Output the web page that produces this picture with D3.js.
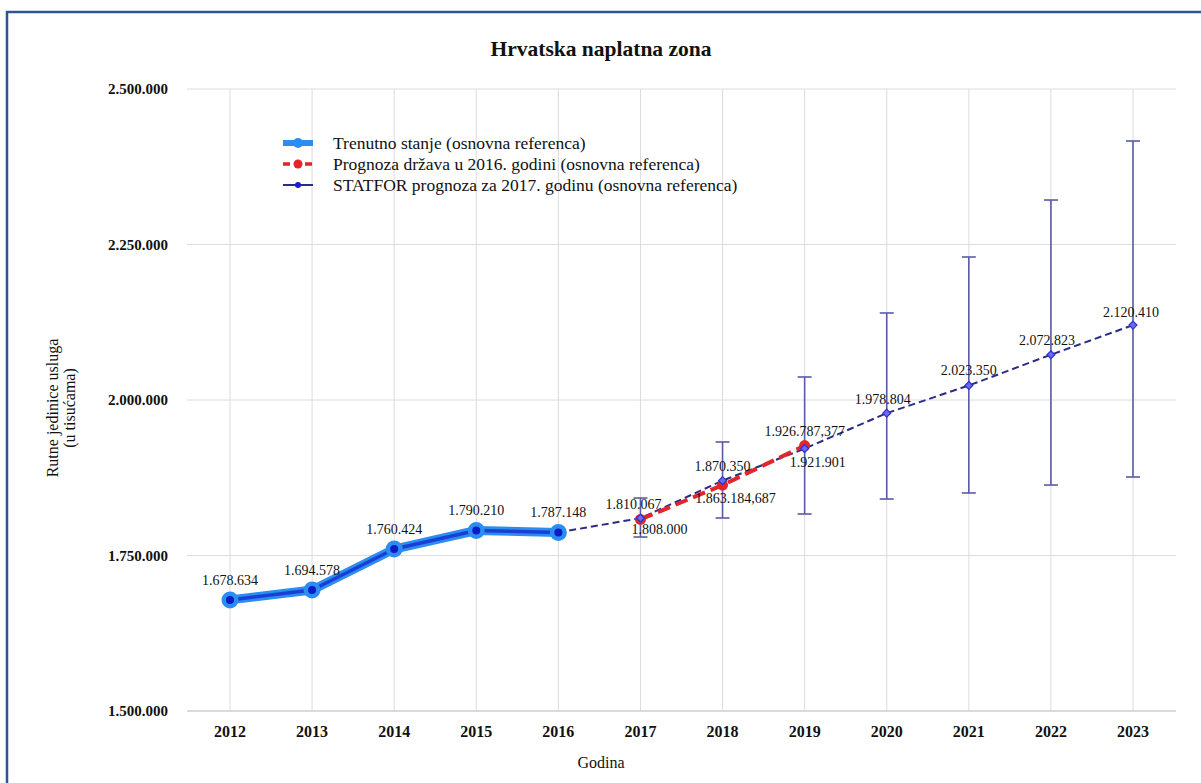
<!DOCTYPE html>
<html>
<head>
<meta charset="utf-8">
<script src="https://cdn.jsdelivr.net/npm/d3@7"></script>
<style>
  body { margin: 0; background: #fff; }
  svg { display: block; }
  text { font-family: "Liberation Serif", "Times New Roman", serif; fill: #111; }
</style>
</head>
<body>
<div id="wrapper"></div>
<script>
// data
const years = [2012, 2013, 2014, 2015, 2016, 2017, 2018, 2019, 2020, 2021, 2022, 2023];

const actualYears = [2012, 2013, 2014, 2015, 2016];
const actualValues = [1678634, 1694578, 1760424, 1790210, 1787148];

const stateYears = [2017, 2018, 2019];
const stateValues = [1808000, 1863184.687, 1926787.377];

const statforYears = [2016, 2017, 2018, 2019, 2020, 2021, 2022, 2023];
const statforValues = [1787148, 1810067, 1870350, 1921901, 1978804, 2023350, 2072823, 2120410];
const statforHigh = [null, 1842400, 1932500, 2037000, 2139900, 2229900, 2321500, 2416400];
const statforLow = [null, 1779700, 1810300, 1816700, 1840800, 1850500, 1863300, 1876200];

const yTicks = [1500000, 1750000, 2000000, 2250000, 2500000];

const legendNames = [
  'Trenutno stanje (osnovna referenca)',
  'Prognoza država u 2016. godini (osnovna referenca)',
  'STATFOR prognoza za 2017. godinu (osnovna referenca)'
];

// label placement (dx, dy from the point), pure layout
const actualLabelPos = actualYears.map(() => [0, -15]);
const stateLabelPos = [[19, 15], [13, 18], [0, -10]];
const statforLabelPos = [null, [-7, -9], [0, -10], [13, 18], [-4, -9], [0, -10], [-4, -10], [-2, -8]];

/* DIMENSIONS */
const dimensions = { width: 1201, height: 783 };

const hr = d3.formatLocale({ decimal: ',', thousands: '.', grouping: [3], currency: ['', ''] });
const fmtInt = hr.format(',.0f');
const fmtDec = hr.format(',.3f');
const fmtValue = v => Number.isInteger(v) ? fmtInt(v) : fmtDec(v);

/* SCALES */
const xScale = d3.scalePoint()
  .domain(years)
  .range([230, 1133]);

const yScale = d3.scaleLinear()
  .domain([1500000, 2500000])
  .range([711, 89]);

const svg = d3.select('#wrapper')
  .append('svg')
  .attr('width', dimensions.width)
  .attr('height', dimensions.height);

// frame
svg.append('path')
  .attr('d', `M 7 ${dimensions.height} L 7 12 L ${dimensions.width} 12`)
  .attr('fill', 'none')
  .attr('stroke', '#2e5593')
  .attr('stroke-width', 2.5);

// title
svg.append('text')
  .attr('x', 601)
  .attr('y', 56)
  .attr('text-anchor', 'middle')
  .attr('font-size', 21.5)
  .attr('font-weight', 'bold')
  .text('Hrvatska naplatna zona');

/* GRID */
const grid = svg.append('g');
grid.selectAll('line.v')
  .data(years)
  .enter()
  .append('line')
  .attr('class', 'v')
  .attr('x1', d => xScale(d))
  .attr('x2', d => xScale(d))
  .attr('y1', yScale(2500000))
  .attr('y2', yScale(1500000))
  .attr('stroke', '#dcdcdc')
  .attr('stroke-width', 1);

grid.selectAll('line.h')
  .data(yTicks)
  .enter()
  .append('line')
  .attr('class', 'h')
  .attr('x1', 187)
  .attr('x2', 1176)
  .attr('y1', d => yScale(d))
  .attr('y2', d => yScale(d))
  .attr('stroke', d => d === 1500000 ? '#cfcfcf' : '#dcdcdc')
  .attr('stroke-width', d => d === 1500000 ? 1.5 : 1);

/* AXES LABELS */
svg.append('g')
  .selectAll('text')
  .data(yTicks)
  .enter()
  .append('text')
  .attr('x', 168)
  .attr('y', d => yScale(d))
  .attr('dy', '0.35em')
  .attr('text-anchor', 'end')
  .attr('font-size', 15)
  .attr('font-weight', 'bold')
  .text(d => fmtInt(d));

svg.append('g')
  .selectAll('text')
  .data(years)
  .enter()
  .append('text')
  .attr('x', d => xScale(d))
  .attr('y', 737)
  .attr('text-anchor', 'middle')
  .attr('font-size', 16)
  .attr('font-weight', 'bold')
  .text(d => d);

svg.append('text')
  .attr('x', 601)
  .attr('y', 768)
  .attr('text-anchor', 'middle')
  .attr('font-size', 16)
  .text('Godina');

const yTitle = svg.append('text')
  .attr('transform', 'translate(0 408) rotate(-90)')
  .attr('text-anchor', 'middle')
  .attr('font-size', 16);
yTitle.append('tspan').attr('x', 0).attr('y', 58).text('Rutne jedinice usluga');
yTitle.append('tspan').attr('x', 0).attr('y', 75).text('(u tisućama)');

/* SERIES */
const line = d3.line()
  .x(d => xScale(d[0]))
  .y(d => yScale(d[1]));

const actual = d3.zip(actualYears, actualValues);
const state = d3.zip(stateYears, stateValues);
const statfor = d3.zip(statforYears, statforValues);

// STATFOR error bars
const bars = svg.append('g')
  .selectAll('g')
  .data(statforYears.map((y, i) => [y, statforLow[i], statforHigh[i]]).filter(d => d[1] != null))
  .enter()
  .append('g')
  .attr('stroke', '#5a5aa8')
  .attr('stroke-width', 1.6);
bars.append('line')
  .attr('x1', d => xScale(d[0])).attr('x2', d => xScale(d[0]))
  .attr('y1', d => yScale(d[1])).attr('y2', d => yScale(d[2]));
bars.append('line')
  .attr('x1', d => xScale(d[0]) - 7).attr('x2', d => xScale(d[0]) + 7)
  .attr('y1', d => yScale(d[1])).attr('y2', d => yScale(d[1]));
bars.append('line')
  .attr('x1', d => xScale(d[0]) - 7).attr('x2', d => xScale(d[0]) + 7)
  .attr('y1', d => yScale(d[2])).attr('y2', d => yScale(d[2]));

// STATFOR line
svg.append('path')
  .attr('d', line(statfor))
  .attr('fill', 'none')
  .attr('stroke', '#2b2b86')
  .attr('stroke-width', 2)
  .attr('stroke-dasharray', '7 4');

// state forecast
svg.append('path')
  .attr('d', line(state))
  .attr('fill', 'none')
  .attr('stroke', '#e0262b')
  .attr('stroke-width', 4)
  .attr('stroke-dasharray', '13 6');
svg.append('g')
  .selectAll('circle')
  .data(state)
  .enter()
  .append('circle')
  .attr('cx', d => xScale(d[0]))
  .attr('cy', d => yScale(d[1]))
  .attr('r', 5.5)
  .attr('fill', '#e0262b');

// STATFOR markers
svg.append('g')
  .selectAll('path')
  .data(statfor.slice(1))
  .enter()
  .append('path')
  .attr('d', d3.symbol(d3.symbolDiamond2, 40))
  .attr('transform', d => `translate(${xScale(d[0])} ${yScale(d[1])})`)
  .attr('fill', '#6a6af0')
  .attr('stroke', '#3030c8')
  .attr('stroke-width', 1.2);

// actual
svg.append('path')
  .attr('d', line(actual))
  .attr('fill', 'none')
  .attr('stroke', '#2b8df0')
  .attr('stroke-width', 9)
  .attr('stroke-linejoin', 'round');
svg.append('path')
  .attr('d', line(actual))
  .attr('fill', 'none')
  .attr('stroke', '#1a3fd6')
  .attr('stroke-width', 3.5)
  .attr('stroke-linejoin', 'round');
const actualPts = svg.append('g')
  .selectAll('g')
  .data(actual)
  .enter()
  .append('g')
  .attr('transform', d => `translate(${xScale(d[0])} ${yScale(d[1])})`);
actualPts.append('circle').attr('r', 8.5).attr('fill', '#2b8df0');
actualPts.append('circle').attr('r', 4).attr('fill', '#0a1bc8');

/* DATA LABELS */
function drawLabels(points, positions) {
  svg.append('g')
    .selectAll('text')
    .data(points.map((p, i) => [p, positions[i]]).filter(d => d[1]))
    .enter()
    .append('text')
    .attr('x', d => xScale(d[0][0]) + d[1][0])
    .attr('y', d => yScale(d[0][1]) + d[1][1])
    .attr('text-anchor', 'middle')
    .attr('font-size', 14)
    .text(d => fmtValue(d[0][1]));
}
drawLabels(actual, actualLabelPos);
drawLabels(statfor, statforLabelPos);
drawLabels(state, stateLabelPos);

/* LEGEND */
const legend = svg.append('g').attr('transform', 'translate(283 143)');
const rows = legend.selectAll('g')
  .data(legendNames)
  .enter()
  .append('g')
  .attr('transform', (d, i) => `translate(0 ${i * 21})`);

rows.append('text')
  .attr('x', 50)
  .attr('dy', '0.35em')
  .attr('font-size', 17.5)
  .text(d => d);

const r0 = rows.filter((d, i) => i === 0);
r0.append('line').attr('x1', 0).attr('x2', 30).attr('stroke', '#2b8df0').attr('stroke-width', 6);
r0.append('circle').attr('cx', 15).attr('r', 5).attr('fill', '#2b8df0');

const r1 = rows.filter((d, i) => i === 1);
r1.append('line').attr('x1', 0).attr('x2', 30).attr('stroke', '#e0262b').attr('stroke-width', 3.5).attr('stroke-dasharray', '7 4');
r1.append('circle').attr('cx', 15).attr('r', 4.5).attr('fill', '#e0262b');

const r2 = rows.filter((d, i) => i === 2);
r2.append('line').attr('x1', 0).attr('x2', 30).attr('stroke', '#2b2b86').attr('stroke-width', 2);
r2.append('circle').attr('cx', 15).attr('r', 3).attr('fill', '#1a1ad0');
</script>
</body>
</html>
